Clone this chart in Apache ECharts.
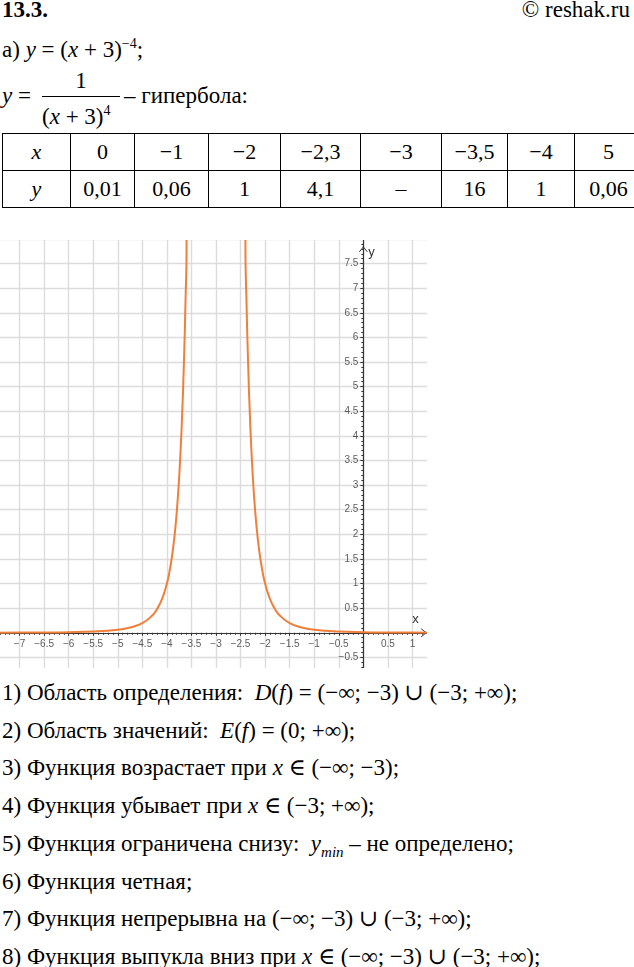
<!DOCTYPE html>
<html><head><meta charset="utf-8">
<script src="https://cdn.jsdelivr.net/npm/echarts@6/dist/echarts.min.js"></script>
<style>
body{margin:0;width:634px;height:967px;position:relative;background:#fff;font-family:"Liberation Serif","DejaVu Serif",serif;color:#000;overflow:hidden}
.t{position:absolute;font-size:23px;line-height:26px;white-space:nowrap}
.m{font-style:italic}
table{position:absolute;left:2px;top:133px;width:631px;border-collapse:collapse;font-size:22px;table-layout:fixed}
td{border:1.3px solid #000;height:36px;text-align:center;padding:0}
#wrap{position:absolute;left:0;top:240px;width:427px;height:428px;overflow:hidden}
#c{position:absolute;left:-5px;top:-1px;width:444px;height:445px}
</style></head><body>
<div class="t" style="left:2px;top:-3px;font-weight:bold">13.3.</div>
<div class="t" style="right:4px;top:-3px">© reshak.ru</div>
<div class="t" style="left:2px;top:31px">а) <span class="m">y</span> = (<span class="m">x</span> + 3)<sup style="font-size:14px">−4</sup>;</div>
<div class="t" style="left:2px;top:83px"><span class="m">y</span> =</div>
<div class="t" style="left:42px;top:68px;width:78px;text-align:center">1</div>
<div style="position:absolute;left:42px;top:96px;width:78px;border-top:1.3px solid #000"></div>
<div class="t" style="left:42px;top:98px">(<span class="m">x</span> + 3)<sup style="font-size:14px">4</sup></div>
<div class="t" style="left:124px;top:83px">– гипербола:</div>
<table id="tb"></table>
<div id="wrap"><div id="c"></div></div>
<div id="props" style="position:absolute;left:2px;top:680px"></div>
<script>
const tableX = ['x','0','−1','−2','−2,3','−3','−3,5','−4','5'];
const tableY = ['y','0,01','0,06','1','4,1','–','16','1','0,06'];
const colW = [67,63,73,71,79,80,65,66,67];
const xTicks = [-7,-6.5,-6,-5.5,-5,-4.5,-4,-3.5,-3,-2.5,-2,-1.5,-1,-0.5,0.5,1];
const yTicks = [-0.5,0.5,1,1.5,2,2.5,3,3.5,4,4.5,5,5.5,6,6.5,7,7.5];
const leftX = [-7.5,-7,-6.5,-6,-5.5,-5,-4.75,-4.5,-4.3,-4.2,-4.1,-4,-3.95,-3.9,-3.85,-3.8,-3.75,-3.7,-3.65,-3.62,-3.6,-3.58];
const leftY = [0.0020,0.0039,0.0067,0.0123,0.0256,0.0625,0.1066,0.1975,0.350,0.482,0.683,1,1.226,1.524,1.916,2.441,3.160,4.165,5.602,6.77,7.716,32.1];
const rightX = [-2.42,-2.4,-2.38,-2.35,-2.3,-2.25,-2.2,-2.15,-2.1,-2.05,-2,-1.9,-1.8,-1.7,-1.5,-1.25,-1,-0.5,0,0.5,1,1.5];
const rightY = [32.1,7.716,6.77,5.602,4.165,3.160,2.441,1.916,1.524,1.226,1,0.683,0.482,0.350,0.1975,0.1066,0.0625,0.0256,0.0123,0.0067,0.0039,0.0020];
const props = [
 '1) Область определения: &nbsp;<i class="m">D</i>(<i class="m">f</i>) = (−∞; −3) ∪ (−3; +∞);',
 '2) Область значений: &nbsp;<i class="m">E</i>(<i class="m">f</i>) = (0; +∞);',
 '3) Функция возрастает при <i class="m">x</i> ∈ (−∞; −3);',
 '4) Функция убывает при <i class="m">x</i> ∈ (−3; +∞);',
 '5) Функция ограничена снизу: &nbsp;<i class="m">y<sub style="font-size:15px">min</sub></i> – не определено;',
 '6) Функция четная;',
 '7) Функция непрерывна на (−∞; −3) ∪ (−3; +∞);',
 '8) Функция выпукла вниз при <i class="m">x</i> ∈ (−∞; −3) ∪ (−3; +∞);'
];
const tb=document.getElementById('tb');
[tableX,tableY].forEach((row,r)=>{const tr=document.createElement('tr');row.forEach((v,i)=>{const td=document.createElement('td');td.style.width=colW[i]+'px';td.innerHTML=(i===0)?'<i>'+v+'</i>':v;tr.appendChild(td);});tb.appendChild(tr);});
document.getElementById('props').innerHTML=props.map((p,i)=>'<div class="t" style="top:'+(i*37.7)+'px;left:0">'+p+'</div>').join('');

const chart=echarts.init(document.getElementById('c'));
const fmt=v=>String(v).replace('-','−');
const lab={fontSize:10,color:'#333',fontFamily:'Arial'};
chart.setOption({
 animation:false,
 grid:{left:0,top:0,right:2,bottom:2,containLabel:false,outerBoundsMode:'none'},
 xAxis:{type:'value',min:-7.5,max:1.5,interval:0.5,
  axisLine:{onZero:true,lineStyle:{color:'#333',width:1.2}},
  axisTick:{show:true,length:3,lineStyle:{color:'#333'}},
  minorTick:{show:true,splitNumber:5,length:2,lineStyle:{color:'#333'}},
  axisLabel:{show:false},
  splitLine:{show:true,lineStyle:{color:'#dcdcdc',width:1.4}}},
 yAxis:{type:'value',min:-1,max:8,interval:0.5,
  axisLine:{onZero:true,lineStyle:{color:'#333',width:1.2}},
  axisTick:{show:true,length:3,lineStyle:{color:'#333'}},
  minorTick:{show:true,splitNumber:5,length:2,lineStyle:{color:'#333'}},
  axisLabel:{show:false},
  splitLine:{show:true,lineStyle:{color:'#dcdcdc',width:1.4}}},
 series:[
  {type:'line',data:leftX.map((x,i)=>[x,leftY[i]]),smooth:true,showSymbol:false,clip:true,lineStyle:{color:'#ef7f3a',width:2},z:3},
  {type:'line',data:rightX.map((x,i)=>[x,rightY[i]]),smooth:true,showSymbol:false,clip:true,lineStyle:{color:'#ef7f3a',width:2},z:3},
  {type:'scatter',data:xTicks.map(v=>[v,0]),symbolSize:0,silent:true,
   label:{show:true,position:'bottom',distance:6,formatter:p=>fmt(p.value[0]),...lab}},
  {type:'scatter',data:yTicks.map(v=>[0,v]),symbolSize:0,silent:true,
   label:{show:true,position:'left',distance:5,formatter:p=>fmt(p.value[1]),...lab}}
 ]
});
const xr=chart.convertToPixel({gridIndex:0},[1.28,0]);
const yt=chart.convertToPixel({gridIndex:0},[0,7.84]);
chart.setOption({graphic:[
  {type:'polyline',shape:{points:[[xr[0]-5,xr[1]-4],[xr[0],xr[1]],[xr[0]-5,xr[1]+4]]},style:{stroke:'#333',lineWidth:1,fill:null}},
  {type:'polyline',shape:{points:[[yt[0]-4,yt[1]+5],[yt[0],yt[1]],[yt[0]+4,yt[1]+5]]},style:{stroke:'#333',lineWidth:1,fill:null}},
  {type:'text',x:xr[0]-14,y:xr[1]-20,style:{text:'x',fontSize:13,fill:'#333'}},
  {type:'text',x:yt[0]+5,y:yt[1]-1,style:{text:'y',fontSize:13,fill:'#333'}}
]});
</script>
</body></html>
